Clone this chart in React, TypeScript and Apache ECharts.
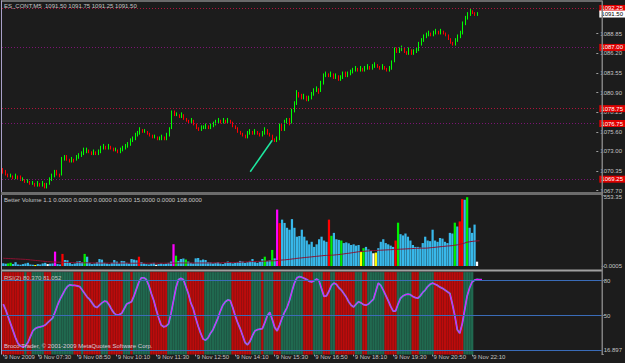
import React, { useEffect, useRef } from "react";
import * as echarts from "echarts";

// ---------- data ----------
const firstBarMinutes = 6 * 60 + 20; // 06:20, 5-minute bars
const barSlots = 243;

const tickBars = [0, 14, 30, 46, 62, 78, 94, 110, 126, 142, 158, 174, 190];
const tickLabels = [
  "9 Nov 2009", "9 Nov 07:30", "9 Nov 08:50", "9 Nov 10:10", "9 Nov 11:30",
  "9 Nov 12:50", "9 Nov 14:10", "9 Nov 15:30", "9 Nov 16:50", "9 Nov 18:10",
  "9 Nov 19:30", "9 Nov 20:50", "9 Nov 22:10",
];

const priceTicks = [1067.7, 1070.35, 1073.0, 1075.6, 1078.25, 1080.9, 1083.55, 1086.2, 1088.85];
const priceLevels = [1092.25, 1087.0, 1078.75, 1076.75, 1069.25];
const lastPrice = 1091.5;

// [open, close, low, high]
const ohlc = [
  [1070.50,1070.25,1070.00,1070.75],[1070.25,1070.00,1069.75,1070.50],[1070.00,1069.75,1069.50,1070.00],[1069.75,1069.75,1069.50,1070.00],
  [1069.75,1069.50,1069.25,1069.75],[1069.50,1069.75,1069.25,1070.00],[1069.75,1069.50,1069.25,1069.75],[1069.50,1069.25,1069.00,1069.75],
  [1069.25,1069.25,1069.00,1069.50],[1069.25,1069.00,1068.75,1069.25],[1069.00,1069.00,1068.75,1069.25],[1069.00,1068.75,1068.50,1069.00],
  [1068.75,1068.75,1068.50,1069.00],[1068.75,1068.50,1068.25,1068.75],[1068.50,1068.75,1068.25,1069.00],[1068.75,1068.50,1068.25,1068.75],
  [1068.50,1068.75,1068.25,1069.00],[1068.75,1068.25,1068.00,1068.75],[1068.25,1068.50,1068.00,1068.75],[1068.50,1069.25,1068.50,1069.50],
  [1069.25,1069.75,1069.00,1070.00],[1069.75,1070.25,1069.50,1070.50],[1070.25,1070.00,1069.75,1070.50],[1070.00,1069.75,1069.50,1070.00],
  [1069.75,1072.00,1069.75,1072.25],[1072.00,1072.25,1071.75,1072.50],[1072.25,1072.00,1071.75,1072.50],[1072.00,1071.75,1071.50,1072.00],
  [1071.75,1072.00,1071.50,1072.25],[1072.00,1071.75,1071.50,1072.00],[1071.75,1072.25,1071.75,1072.50],[1072.25,1072.50,1072.00,1072.75],
  [1072.50,1072.75,1072.25,1073.00],[1072.75,1073.00,1072.50,1073.50],[1073.00,1073.25,1072.75,1073.50],[1073.25,1073.00,1072.75,1073.25],
  [1073.00,1072.75,1072.50,1073.00],[1072.75,1073.00,1072.50,1073.25],[1073.00,1072.75,1072.50,1073.00],[1072.75,1073.00,1072.50,1073.25],
  [1073.00,1073.50,1072.75,1073.75],[1073.50,1073.75,1073.25,1074.00],[1073.75,1073.50,1073.25,1073.75],[1073.50,1073.75,1073.25,1074.00],
  [1073.75,1073.50,1073.25,1073.75],[1073.50,1073.25,1073.00,1073.50],[1073.25,1073.25,1073.00,1073.50],[1073.25,1073.00,1072.75,1073.25],
  [1073.00,1073.25,1072.75,1073.50],[1073.25,1073.50,1073.00,1073.75],[1073.50,1073.75,1073.25,1074.00],[1073.75,1074.00,1073.50,1074.25],
  [1074.00,1074.50,1073.75,1074.75],[1074.50,1074.75,1074.25,1075.00],[1074.75,1075.25,1074.50,1075.50],[1075.25,1075.50,1075.00,1075.75],
  [1075.50,1076.00,1075.25,1076.25],[1076.00,1075.75,1075.50,1076.00],[1075.75,1075.75,1075.50,1076.00],[1075.75,1075.50,1075.25,1075.75],
  [1075.50,1075.25,1075.00,1075.50],[1075.25,1075.00,1074.75,1075.25],[1075.00,1075.00,1074.75,1075.25],[1075.00,1074.75,1074.50,1075.00],
  [1074.75,1074.75,1074.50,1075.00],[1074.75,1075.00,1074.50,1075.25],[1075.00,1074.75,1074.50,1075.00],[1074.75,1075.25,1074.50,1075.50],
  [1075.25,1076.00,1075.00,1076.25],[1076.00,1078.25,1076.00,1078.50],[1078.25,1078.00,1077.75,1078.50],[1078.00,1078.00,1077.75,1078.25],
  [1078.00,1077.75,1077.50,1078.00],[1077.75,1078.00,1077.50,1078.25],[1078.00,1077.50,1077.25,1078.00],[1077.50,1077.25,1077.00,1077.50],
  [1077.25,1077.00,1076.75,1077.25],[1077.00,1077.25,1076.75,1077.50],[1077.25,1076.75,1076.50,1077.25],[1076.75,1076.25,1076.00,1076.75],
  [1076.25,1076.00,1075.75,1076.25],[1076.00,1076.25,1075.75,1076.50],[1076.25,1076.25,1076.00,1076.50],[1076.25,1076.50,1076.00,1076.75],
  [1076.50,1076.25,1076.00,1076.50],[1076.25,1076.50,1076.00,1076.75],[1076.50,1076.75,1076.25,1077.00],[1076.75,1077.00,1076.50,1077.25],
  [1077.00,1077.25,1076.75,1077.50],[1077.25,1077.00,1076.75,1077.25],[1077.00,1077.25,1076.75,1077.50],[1077.25,1077.00,1076.75,1077.25],
  [1077.00,1077.25,1076.75,1077.50],[1077.25,1077.00,1076.75,1077.25],[1077.00,1076.50,1076.25,1077.00],[1076.50,1076.25,1076.00,1076.50],
  [1076.25,1075.75,1075.50,1076.25],[1075.75,1075.50,1075.25,1075.75],[1075.50,1075.25,1075.00,1075.50],[1075.25,1075.00,1074.75,1075.25],
  [1075.00,1075.50,1074.75,1075.75],[1075.50,1075.75,1075.25,1076.00],[1075.75,1075.50,1075.25,1075.75],[1075.50,1075.75,1075.25,1076.00],
  [1075.75,1075.50,1075.25,1075.75],[1075.50,1075.25,1075.00,1075.50],[1075.25,1075.50,1075.00,1075.75],[1075.50,1076.00,1075.25,1076.25],
  [1076.00,1075.50,1075.25,1076.00],[1075.50,1075.25,1075.00,1075.50],[1075.25,1074.75,1074.50,1075.25],[1074.75,1074.50,1074.25,1074.75],
  [1074.50,1074.75,1074.25,1075.00],[1074.75,1076.50,1074.50,1076.75],[1076.50,1076.00,1075.75,1076.75],[1076.00,1077.00,1075.75,1077.25],
  [1077.00,1077.25,1076.75,1077.50],[1077.25,1076.75,1076.50,1077.50],[1076.75,1078.50,1076.75,1078.75],[1078.50,1079.50,1078.25,1079.75],
  [1079.50,1080.75,1079.25,1081.25],[1080.75,1080.50,1080.25,1081.00],[1080.50,1080.25,1080.00,1080.75],[1080.25,1080.50,1080.00,1080.75],
  [1080.50,1080.00,1079.75,1080.50],[1080.00,1080.25,1079.75,1080.50],[1080.25,1080.75,1080.00,1081.00],[1080.75,1081.25,1080.50,1081.50],
  [1081.25,1081.50,1081.00,1081.75],[1081.50,1081.00,1080.75,1081.50],[1081.00,1082.25,1081.00,1082.50],[1082.25,1083.25,1082.00,1083.50],
  [1083.25,1083.50,1083.00,1083.75],[1083.50,1083.25,1083.00,1083.50],[1083.25,1083.50,1083.00,1083.75],[1083.50,1083.00,1082.75,1083.50],
  [1083.00,1083.25,1082.75,1083.50],[1083.25,1082.75,1082.50,1083.25],[1082.75,1083.00,1082.50,1083.25],[1083.00,1083.50,1082.75,1083.75],
  [1083.50,1083.25,1083.00,1083.75],[1083.25,1083.50,1083.00,1083.75],[1083.50,1083.75,1083.25,1084.00],[1083.75,1084.00,1083.50,1084.25],
  [1084.00,1084.25,1083.75,1084.50],[1084.25,1084.00,1083.75,1084.25],[1084.00,1084.25,1083.75,1084.50],[1084.25,1084.00,1083.75,1084.25],
  [1084.00,1084.25,1083.75,1084.50],[1084.25,1084.50,1084.00,1084.75],[1084.50,1084.25,1084.00,1084.50],[1084.25,1084.50,1084.00,1084.75],
  [1084.50,1084.75,1084.25,1085.00],[1084.75,1084.50,1084.25,1084.75],[1084.50,1084.25,1084.00,1084.50],[1084.25,1084.50,1084.00,1084.75],
  [1084.50,1084.25,1084.00,1084.50],[1084.25,1084.00,1083.75,1084.25],[1084.00,1084.25,1083.75,1084.50],[1084.25,1085.00,1084.00,1085.25],
  [1085.00,1086.75,1085.00,1087.00],[1086.75,1086.50,1086.25,1087.00],[1086.50,1086.75,1086.25,1087.00],[1086.75,1087.00,1086.50,1087.25],
  [1087.00,1086.50,1086.25,1087.00],[1086.50,1086.25,1086.00,1086.50],[1086.25,1086.75,1086.00,1087.00],[1086.75,1086.25,1086.00,1086.75],
  [1086.25,1086.50,1086.00,1086.75],[1086.50,1086.75,1086.25,1087.00],[1086.75,1087.50,1086.50,1087.75],[1087.50,1088.00,1087.25,1088.25],
  [1088.00,1088.50,1087.75,1088.75],[1088.50,1088.75,1088.25,1089.00],[1088.75,1089.00,1088.50,1089.25],[1089.00,1088.75,1088.50,1089.00],
  [1088.75,1089.00,1088.50,1089.25],[1089.00,1089.25,1088.75,1089.50],[1089.25,1089.00,1088.75,1089.25],[1089.00,1089.25,1088.75,1089.50],
  [1089.25,1089.00,1088.75,1089.25],[1089.00,1088.75,1088.50,1089.00],[1088.75,1088.25,1088.00,1088.75],[1088.25,1087.75,1087.50,1088.25],
  [1087.75,1087.50,1087.25,1087.75],[1087.50,1088.00,1087.25,1088.25],[1088.00,1088.50,1087.75,1088.75],[1088.50,1089.00,1088.25,1089.25],
  [1089.00,1090.25,1088.75,1090.50],[1090.25,1091.00,1090.00,1091.25],[1091.00,1091.50,1090.75,1091.75],[1091.50,1092.00,1091.25,1092.25],
  [1092.00,1091.75,1091.50,1092.00],[1091.75,1091.50,1091.25,1091.75],[1091.50,1091.50,1091.25,1091.75],
];

// manual trend line: [bar index, price]
const trendLine = [[101, 1070.25], [110, 1074.5]];

const volumes = [
  22, 18, 20, 25, 15, 30, 12, 10, 15, 20,
  25, 12, 10, 8, 15, 12, 20, 25, 15, 18,
  20, 113, 15, 12, 95, 47, 45, 25, 15, 20,
  35, 38, 30, 95, 73, 25, 15, 20, 30, 55,
  50, 25, 20, 15, 25, 47, 35, 20, 40, 38,
  25, 20, 55, 50, 45, 73, 30, 20, 15, 12,
  20, 25, 10, 15, 20, 15, 18, 25, 35, 171,
  81, 40, 55, 59, 51, 35, 25, 20, 60, 63,
  45, 51, 47, 30, 28, 20, 25, 30, 20, 15,
  25, 35, 30, 20, 25, 30, 40, 35, 25, 30,
  40, 55, 30, 25, 35, 55, 73, 40, 45, 126,
  60, 443, 337, 364, 338, 300, 285, 368, 300, 230,
  235, 285, 230, 200, 170, 190, 150, 170, 210, 230,
  200, 190, 364, 237, 260, 210, 205, 200, 180, 185,
  178, 165, 170, 160, 165, 113, 140, 150, 130, 120,
  100, 105, 140, 190, 210, 180, 170, 160, 150, 200,
  340, 250, 240, 255, 230, 200, 165, 150, 150, 145,
  180, 230, 200, 195, 285, 200, 190, 220, 215, 190,
  180, 260, 255, 340, 310, 350, 525, 520, 540, 300,
  260, 325, 34, 0, 0,
];
// b = normal, y = low, r = climax up, w = climax down, g = churn, m = climax churn
const volumeTypes =
  "bbggbbbbbb" + "bbbybbbbwb" + "bmbbrbbbbb" + "bbbgbbbbbb" + "bbbbbbbbbb" +
  "bbbbbrbbbb" + "bbwbbbbbbm" + "gbbbgbbbbb" + "bbbbbbbbbb" + "bbbbbbbbbb" +
  "bbbbbbgbbg" + "bmrbbbbbbb" + "bbbbbbbbbb" + "bbrgbbbgbb" + "bbbbbygbbb" +
  "wybbbbbbbr" + "gbbbbbbbbb" + "bbbbbbbbbb" + "bbbgbrrbgb" + "bbwbb";

const volumeMA = [
  61, 60, 59, 58, 57, 56, 55, 54, 53, 52,
  50, 48, 46, 44, 42, 40, 38, 36, 34, 33,
  32, 31, 30, 30, 29, 28, 28, 27, 27, 26,
  26, 26, 25, 25, 25, 24, 24, 24, 24, 23,
  23, 23, 23, 23, 23, 23, 23, 23, 23, 23,
  23, 22, 22, 22, 22, 22, 22, 22, 22, 22,
  22, 22, 22, 22, 22, 22, 22, 22, 22, 23,
  23, 24, 24, 24, 24, 24, 24, 24, 24, 24,
  24, 24, 24, 24, 24, 25, 25, 25, 25, 26,
  26, 27, 27, 28, 28, 29, 30, 31, 32, 33,
  34, 35, 35, 36, 37, 37, 38, 39, 40, 41,
  41, 43, 45, 47, 48, 50, 52, 55, 57, 60,
  62, 64, 66, 68, 70, 72, 74, 76, 78, 80,
  82, 83, 84, 85, 86, 88, 90, 92, 95, 98,
  100, 103, 106, 109, 112, 113, 115, 117, 118, 120,
  121, 122, 123, 124, 125, 126, 127, 128, 129, 130,
  131, 132, 133, 134, 135, 136, 137, 138, 139, 139,
  140, 140, 141, 143, 145, 147, 149, 151, 153, 155,
  157, 158, 160, 163, 166, 170, 175, 180, 187, 190,
  193, 195, 197, 198,
];

const rsi = [
  60, 55, 49, 43, 37, 31, 26, 24, 23, 24,
  27, 32, 37, 39, 40, 40.5, 41, 42, 44, 46,
  48, 53, 59, 64, 68, 72, 75, 76.5, 76, 76,
  75.5, 75, 72, 69, 66, 64, 61, 58, 57, 59,
  61, 62.5, 62, 59, 55, 52, 50.5, 51, 52, 56,
  60, 61, 62, 67, 73, 79, 82.5, 82.5, 81, 76,
  69, 63, 55, 48, 42, 40.5, 41, 43, 52, 63,
  74, 81, 82, 81, 75, 69, 61, 56, 48, 41,
  35, 30, 29, 31, 35, 38, 43, 48, 54, 59,
  62, 63.5, 63, 57, 50, 44, 39, 33, 27, 25,
  28, 33, 37, 38, 38.5, 39, 44, 50, 53, 47,
  40, 37, 42, 48, 53, 57, 63, 71, 78, 82.5,
  83.5, 83, 82, 81, 79.5, 79, 80, 81.5, 80, 73,
  66.5, 67, 71, 76, 78, 77, 74, 72, 69, 66,
  62, 59, 57.5, 60, 62, 61, 59.5, 59, 60, 62,
  64, 71, 78, 76, 72, 67.5, 63, 58, 54, 54,
  60, 65, 67, 68, 68.5, 68, 66.5, 65.5, 65, 67,
  70, 72, 75, 77, 78, 77, 76, 74.5, 73.5, 72,
  70.5, 69, 60, 50, 38, 35, 43, 55, 67, 74,
  79, 80.5, 81.2, 81, 81,
];
// background run lengths, alternating falling (red) / rising (green), starting with falling
const rsiRuns = [9, 1, 2, 5, 3, 9, 3, 1, 7, 3, 6, 3, 1, 7, 7, 8, 7, 11, 8, 4, 1, 4, 3, 9, 4, 4, 3, 2, 8, 3, 2, 7, 5, 6, 3, 6, 12, 4];
const rsiTicks = [16.897, 50, 80, 87.494];
const rsiLevels = [80, 50, 20];
const volumeTicks = [0, 553.35];

// ---------- styles ----------
const FONT = "Liberation Sans";
const BG = "#1c1c1c";
const TXT = "#c4c4c4";
const UP = "#00ff00";
const DOWN = "#ff0000";
const levelColors = ["#b0143c", "#7c1474", "#b0143c", "#7c1474", "#7c1474"];
const volColorMap: Record<string, string> = {
  b: "#38b8ea", y: "#ffff00", r: "#ff0000", w: "#ffffff", g: "#00f000", m: "#ff00ff",
};
const BAND_RED = "#bc0c0c";
const BAND_GREEN = "#216a50";

function buildOption() {
  const categories = Array.from({ length: barSlots }, (_, i) => {
    const m = firstBarMinutes + 5 * i;
    return `${String(Math.floor(m / 60) % 24).padStart(2, "0")}:${String(m % 60).padStart(2, "0")}`;
  });
  const showTick = (i: number) => tickBars.indexOf(i) >= 0;

  const bandColors: string[] = [];
  rsiRuns.forEach((n, k) => {
    for (let j = 0; j < n; j++) bandColors.push(k % 2 === 0 ? BAND_RED : BAND_GREEN);
  });

  const baseX = {
    type: "category",
    data: categories,
    boundaryGap: true,
    axisLine: { show: false },
    axisTick: { show: false },
    axisLabel: { show: false },
    splitLine: { show: false },
  };

  const rightAxisBase = {
    type: "value",
    position: "right",
    axisLine: { show: false },
    splitLine: { show: false },
  };

  const priceLabel = (text: string, fg: string, bg: string) => ({
    show: true, position: "end", distance: 3,
    formatter: () => text,
    color: fg, backgroundColor: bg,
    padding: [1, 2, 0, 2], fontSize: 6, fontFamily: FONT,
  });

  return {
    animation: false,
    backgroundColor: BG,
    textStyle: { fontFamily: FONT, fontSize: 6 },
    grid: [
      { left: 2, width: 600, top: 2, height: 189 },
      { left: 2, width: 600, top: 195.5, height: 70.5 },
      { left: 2, width: 600, top: 272, height: 82.3 },
    ],
    xAxis: [
      { ...baseX, gridIndex: 0 },
      { ...baseX, gridIndex: 1 },
      {
        ...baseX,
        gridIndex: 2,
        axisTick: {
          show: true, interval: showTick, alignWithLabel: true, length: 2,
          lineStyle: { color: "#a0a0a0" },
        },
        axisLabel: {
          show: true,
          interval: showTick,
          formatter: (_v: string, i: number) => tickLabels[tickBars.indexOf(i)] ?? "",
          align: "left",
          color: TXT,
          fontSize: 6,
          fontFamily: FONT,
          margin: 0,
          padding: [0, 0, 0, 1],
        },
      },
    ],
    yAxis: [
      {
        ...rightAxisBase,
        gridIndex: 0,
        min: 1067.66,
        max: 1093.12,
        axisTick: { show: true, customValues: priceTicks, length: 2, lineStyle: { color: "#a0a0a0" } },
        axisLabel: {
          customValues: priceTicks,
          formatter: (v: number) => v.toFixed(2),
          color: TXT, fontSize: 6, fontFamily: FONT, margin: 4,
        },
      },
      {
        ...rightAxisBase,
        gridIndex: 1,
        min: 0,
        max: 553.35,
        axisTick: { show: true, customValues: volumeTicks, length: 2, lineStyle: { color: "#a0a0a0" } },
        axisLabel: {
          customValues: volumeTicks,
          formatter: (v: number) => (v === 0 ? "0.0005" : "{t|" + v.toFixed(2) + "}"),
          color: TXT, fontSize: 6, fontFamily: FONT, margin: 2,
          rich: { t: { padding: [2, 0, 0, 0], color: TXT, fontSize: 6, fontFamily: FONT } },
        },
      },
      {
        ...rightAxisBase,
        gridIndex: 2,
        min: 16.897,
        max: 87.494,
        axisTick: { show: true, customValues: rsiTicks, length: 2, lineStyle: { color: "#a0a0a0" } },
        axisLabel: {
          customValues: rsiTicks,
          formatter: (v: number) =>
            v === 87.494 ? "{t|87.494}" : v === 16.897 ? "{b|16.897}" : String(v),
          color: TXT, fontSize: 6, fontFamily: FONT, margin: 2,
          rich: {
            t: { padding: [7, 0, 0, 0], color: TXT, fontSize: 6, fontFamily: FONT },
            b: { padding: [0, 0, 9, 0], color: TXT, fontSize: 6, fontFamily: FONT },
          },
        },
      },
    ],
    series: [
      {
        type: "candlestick",
        xAxisIndex: 0,
        yAxisIndex: 0,
        data: ohlc,
        barWidth: 1,
        itemStyle: { color: UP, color0: DOWN, borderColor: UP, borderColor0: DOWN, borderWidth: 1 },
        markLine: {
          silent: true,
          symbol: "none",
          animation: false,
          data: [
            ...priceLevels.map((p, k) => ({
              yAxis: p,
              lineStyle: { color: levelColors[k], type: [1, 2], width: 1 },
              label: priceLabel(p.toFixed(2), "#ffffff", "#e00000"),
            })),
            {
              yAxis: lastPrice,
              lineStyle: { color: "rgba(0,0,0,0)", width: 0 },
              label: priceLabel(lastPrice.toFixed(2), "#000000", "#ffffff"),
            },
          ],
        },
      },
      {
        type: "line",
        xAxisIndex: 0,
        yAxisIndex: 0,
        data: trendLine,
        symbol: "none",
        lineStyle: { color: "#1de9a0", width: 1.5 },
      },
      {
        type: "bar",
        xAxisIndex: 1,
        yAxisIndex: 1,
        barCategoryGap: "10%",
        data: volumes.map((v, i) => ({
          value: v,
          itemStyle: { color: volColorMap[volumeTypes[i]] || volColorMap.b },
        })),
      },
      {
        type: "line",
        xAxisIndex: 1,
        yAxisIndex: 1,
        data: volumeMA,
        symbol: "none",
        lineStyle: { color: "#8c1232", width: 1 },
      },
      {
        type: "bar",
        xAxisIndex: 2,
        yAxisIndex: 2,
        barCategoryGap: "0%",
        silent: true,
        data: bandColors.map((c) => ({
          value: 87.494,
          itemStyle: { color: c, borderColor: c, borderWidth: 0.4 },
        })),
        markLine: {
          silent: true,
          symbol: "none",
          label: { show: false },
          lineStyle: { color: "#3a6cb8", type: "solid", width: 1 },
          data: rsiLevels.map((v) => ({ yAxis: v })),
        },
      },
      {
        type: "line",
        xAxisIndex: 2,
        yAxisIndex: 2,
        data: rsi,
        symbol: "none",
        lineStyle: { color: "#3cb4dc", width: 1.8 },
      },
      {
        type: "line",
        xAxisIndex: 2,
        yAxisIndex: 2,
        data: rsi,
        symbol: "none",
        lineStyle: { color: "#ff00ff", width: 1 },
      },
    ],
    graphic: [
      { type: "rect", z: 100, shape: { x: 1, y: 0.5, width: 601, height: 1 }, style: { fill: "#b8b8b8" } },
      { type: "rect", z: 100, shape: { x: 1, y: 0.5, width: 1, height: 354 }, style: { fill: "#a8a0c8" } },
      { type: "rect", z: 100, shape: { x: 1, y: 192, width: 601, height: 3 }, style: { fill: "#6c6c6c" } },
      { type: "rect", z: 100, shape: { x: 1, y: 269.5, width: 601, height: 2 }, style: { fill: "#a0a0a0" } },
      { type: "rect", z: 100, shape: { x: 601.5, y: 0.5, width: 1.5, height: 354 }, style: { fill: "#808080" } },
      {
        type: "text", z: 101, x: 4, y: 6,
        style: { text: "ES_CONT,M5  1091.50 1091.75 1091.25 1091.50", fill: TXT, fontSize: 6, fontFamily: FONT, verticalAlign: "middle" },
      },
      {
        type: "text", z: 101, x: 4, y: 200,
        style: { text: "Better Volume 1.1 0.0000 0.0000 0.0000 0.0000 15.0000 0.0000 108.0000", fill: TXT, fontSize: 6, fontFamily: FONT, verticalAlign: "middle" },
      },
      {
        type: "text", z: 101, x: 4, y: 277.5,
        style: { text: "RSI(2) 80.370 81.052", fill: TXT, fontSize: 6, fontFamily: FONT, verticalAlign: "middle" },
      },
      {
        type: "text", z: 101, x: 4, y: 346,
        style: { text: "Broco Trader, © 2001-2009 MetaQuotes Software Corp.", fill: "#d8c8d8", fontSize: 6, fontFamily: FONT, verticalAlign: "middle" },
      },
    ],
  };
}

export default function App() {
  const ref = useRef<HTMLDivElement>(null);
  useEffect(() => {
    if (!ref.current) return;
    const chart = echarts.init(ref.current, undefined, { renderer: "svg" });
    chart.setOption(buildOption() as any);
    return () => chart.dispose();
  }, []);
  return (
    <div
      ref={ref}
      style={{ position: "fixed", left: 0, top: 0, width: 625, height: 363, background: BG }}
    />
  );
}
